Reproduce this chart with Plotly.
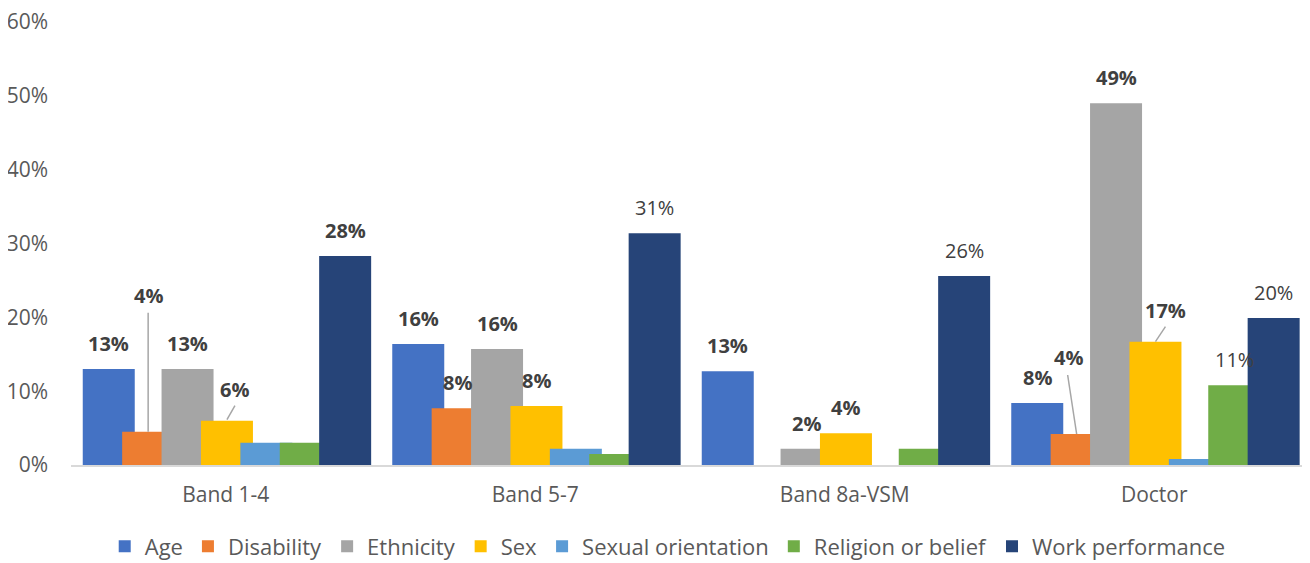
import plotly.graph_objects as go

# ---- data ----
categories = ["Band 1-4", "Band 5-7", "Band 8a-VSM", "Doctor"]
series_names = ["Age", "Disability", "Ethnicity", "Sex", "Sexual orientation",
                "Religion or belief", "Work performance"]
age = [0.130, 0.164, 0.127, 0.084]
disability = [0.045, 0.077, 0.0, 0.042]
ethnicity = [0.130, 0.157, 0.022, 0.490]
sex = [0.060, 0.080, 0.043, 0.167]
sexual_orientation = [0.030, 0.022, 0.0, 0.008]
religion = [0.030, 0.015, 0.022, 0.108]
work_performance = [0.283, 0.314, 0.256, 0.199]
y_ticks = [0, 0.1, 0.2, 0.3, 0.4, 0.5, 0.6]

series_values = [age, disability, ethnicity, sex, sexual_orientation, religion, work_performance]
colors = ["#4472C4", "#ED7D31", "#A5A5A5", "#FFC000", "#5B9BD5", "#70AD47", "#264478"]

# labelled bars: (series, group) -> shown; zero/small ones unlabeled
unlabeled = {(4, 0), (5, 0), (4, 1), (5, 1), (1, 2), (4, 2), (5, 2), (4, 3)}
regular_weight = {(6, 1), (6, 2), (5, 3), (6, 3)}
# special label placements (pixel offsets) and leader lines
special = {
    (1, 0): dict(dx=0, dy=136, leader=(0, 0, 0, 119)),
    (3, 0): dict(dx=7.5, dy=31.5, leader=(0, 1, 8, 15)),
    (1, 3): dict(dx=-8.6, dy=76.5, leader=(0, 0, -9, 59)),
    (3, 3): dict(dx=10.5, dy=31, leader=(0, 0, 10, 15)),
}

# ---- layout geometry (page body has an 8px margin) ----
W, H = 1302, 555
L, R, T, B = 63, 1, 14, 98
pitch_px = (W - L - R) / len(categories)
bar_w = 52 / pitch_px
offsets = [(-143 + 39.4 * i) / pitch_px for i in range(len(series_names))]

FONT = "Open Sans"
fig = go.Figure()
for i, (name, vals) in enumerate(zip(series_names, series_values)):
    fig.add_trace(go.Bar(
        name=name, x=categories, y=vals,
        offset=offsets[i], width=bar_w,
        marker=dict(color=colors[i], line=dict(width=0)),
        opacity=1,
    ))

annotations = []
shapes = []
for i, vals in enumerate(series_values):
    for g, v in enumerate(vals):
        if (i, g) in unlabeled:
            continue
        xc = g + offsets[i] + bar_w / 2
        sp = special.get((i, g), dict(dx=0, dy=25.5, leader=None))
        bold = (i, g) not in regular_weight
        annotations.append(dict(
            x=xc, y=v, xref="x", yref="y",
            text=f"<b>{round(v*100)}%</b>" if bold else f"{round(v*100)}%",
            showarrow=False, xshift=sp["dx"], yshift=sp["dy"],
            yanchor="middle", xanchor="center",
            font=dict(family=FONT, size=20, color="#404040"),
        ))
        if sp["leader"]:
            x0, y0, x1, y1 = sp["leader"]
            shapes.append(dict(
                type="line", xref="x", yref="y",
                xsizemode="pixel", ysizemode="pixel",
                xanchor=xc, yanchor=v,
                x0=x0, y0=y0, x1=x1, y1=y1,
                line=dict(color="#A6A6A6", width=1.5),
            ))

fig.update_layout(
    width=W, height=H,
    margin=dict(l=L, r=R, t=T, b=B, pad=0, autoexpand=False),
    barmode="overlay",
    plot_bgcolor="white", paper_bgcolor="white",
    font=dict(family=FONT, color="#595959"),
    annotations=annotations,
    shapes=shapes,
    showlegend=True,
    legend=dict(
        orientation="h", x=0.482, xanchor="center", y=-0.184, yanchor="middle",
        font=dict(family=FONT, size=22, color="#595959"),
        traceorder="normal", itemsizing="constant",
    ),
    xaxis=dict(
        type="category", showgrid=False, showline=True,
        linecolor="#D9D9D9", linewidth=1.5, ticks="",
        tickfont=dict(family=FONT, size=21, color="#595959"),
        range=[-0.5, 3.5], fixedrange=True, automargin=False,
        ticklabelstandoff=10,
    ),
    yaxis=dict(
        range=[0, 0.6], tickvals=y_ticks, tickformat=".0%",
        showgrid=False, zeroline=False, showline=False,
        tickfont=dict(family=FONT, size=21, color="#595959"),
        ticklabelstandoff=22, automargin=False, ticklabeloverflow="allow",
    ),
)

fig.write_html("out.html")
